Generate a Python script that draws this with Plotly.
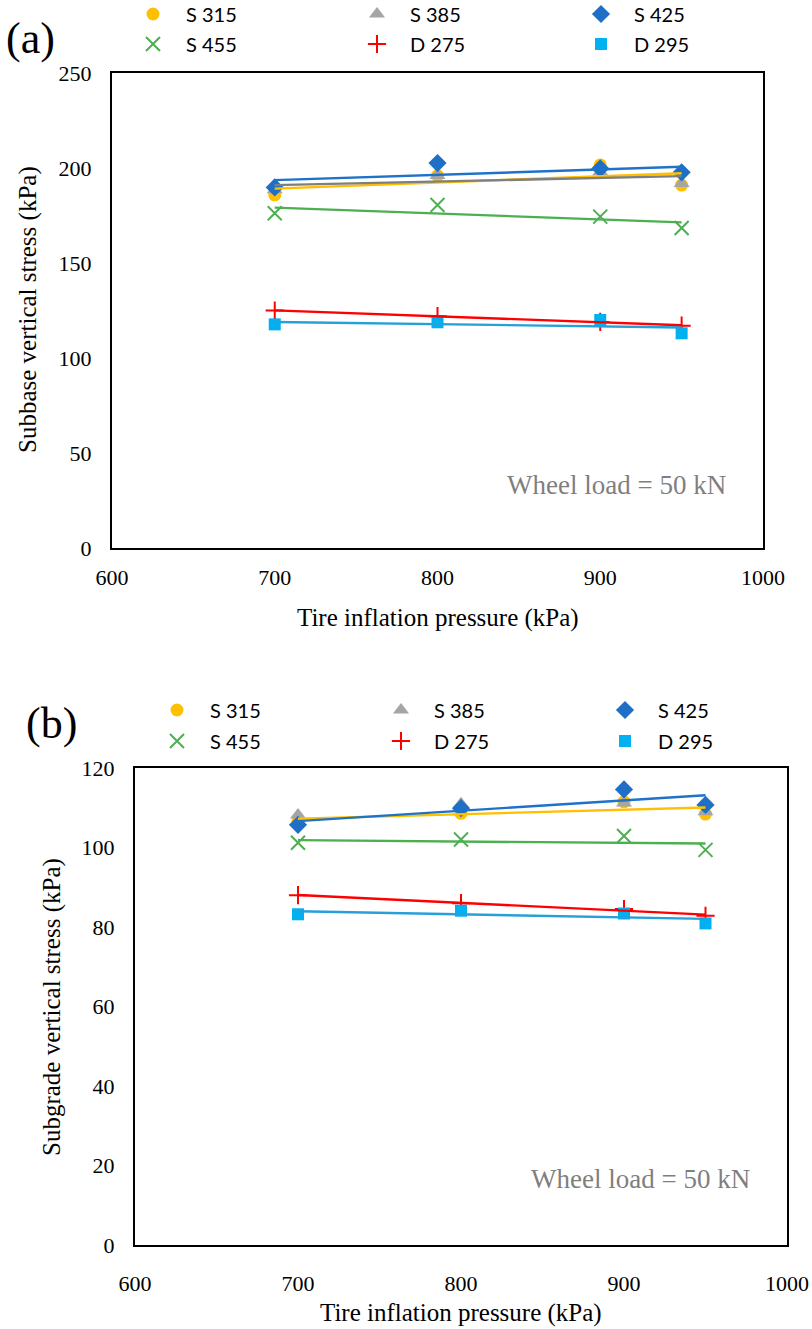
import numpy as np
import plotly.graph_objects as go

W, H = 812, 1329

# ---------------- data ----------------
pressure = [700, 800, 900, 950]
series_names = ["S 315", "S 385", "S 425", "S 455", "D 275", "D 295"]

subbase_S315 = [185.8, 196.0, 201.6, 191.0]
subbase_S385 = [188.5, 196.0, 198.0, 191.9]
subbase_S425 = [189.8, 202.6, 199.8, 197.7]
subbase_S455 = [176.2, 180.5, 174.4, 168.4]
subbase_D275 = [125.0, 122.0, 119.0, 117.0]
subbase_D295 = [117.7, 118.8, 120.0, 113.0]

subgrade_S315 = [106.7, 108.6, 111.5, 108.4]
subgrade_S385 = [108.2, 111.0, 111.2, 109.0]
subgrade_S425 = [105.7, 109.9, 114.6, 110.7]
subgrade_S455 = [101.2, 102.0, 102.9, 99.4]
subgrade_D275 = [88.0, 86.0, 84.5, 82.8]
subgrade_D295 = [83.2, 84.1, 83.4, 80.9]

x_ticks = [600, 700, 800, 900, 1000]
ya_ticks = [0, 50, 100, 150, 200, 250]
yb_ticks = [0, 20, 40, 60, 80, 100, 120]

# ---------------- styles ----------------
marker_styles = [
    dict(symbol="circle", color="#FFC000", size=13),
    dict(symbol="triangle-up", color="#A5A5A5", size=14),
    dict(symbol="diamond", color="#1F6FC6", size=14),
    dict(symbol="x-thin", color="#4CAF50", size=14, line=dict(color="#4CAF50", width=2)),
    dict(symbol="cross-thin", color="#FF0000", size=13, line=dict(color="#FF0000", width=2)),
    dict(symbol="square", color="#00B0F0", size=12),
]
line_colors = ["#FFC000", "#7F7F7F", "#1E72C8", "#4CAF50", "#FF0000", "#25A0DA"]

serif = "Liberation Serif, Times New Roman, serif"
sans = "Lato, Carlito, Calibri, sans-serif"


def px(x):
    return x / W


def py(y):
    return 1 - y / H


fig = go.Figure()

panels = [
    dict(xa="x", ya="y", data=[subbase_S315, subbase_S385, subbase_S425,
                              subbase_S455, subbase_D275, subbase_D295],
         legends=["legend", "legend2"], trend=[True] * 6),
    dict(xa="x2", ya="y2", data=[subgrade_S315, subgrade_S385, subgrade_S425,
                                subgrade_S455, subgrade_D275, subgrade_D295],
         legends=["legend3", "legend4"], trend=[True, False, True, True, True, True]),
]

for p in panels:
    for i, (name, vals) in enumerate(zip(series_names, p["data"])):
        fig.add_trace(go.Scatter(
            x=pressure, y=vals, mode="markers", name=name,
            marker=marker_styles[i], xaxis=p["xa"], yaxis=p["ya"],
            legend=p["legends"][0] if i < 3 else p["legends"][1],
            showlegend=True,
        ))
    for i, vals in enumerate(p["data"]):
        if not p["trend"][i]:
            continue
        coef = np.polyfit(pressure, vals, 1)
        xs = [min(pressure), max(pressure)]
        ys = list(np.polyval(coef, xs))
        fig.add_trace(go.Scatter(
            x=xs, y=ys, mode="lines", line=dict(color=line_colors[i], width=2.4),
            xaxis=p["xa"], yaxis=p["ya"], showlegend=False, hoverinfo="skip",
        ))

axis_common = dict(showgrid=False, zeroline=False, showline=True, linecolor="black",
                   linewidth=2, mirror=True, ticks="", automargin=False,
                   tickfont=dict(family=serif, size=22, color="black"))

fig.update_layout(
    width=W, height=H,
    margin=dict(l=0, r=0, t=0, b=0, autoexpand=False),
    paper_bgcolor="white", plot_bgcolor="white",
    showlegend=True,
    xaxis=dict(domain=[px(112), px(763)], range=[600, 1000], tickvals=x_ticks,
               anchor="y", ticklabelstandoff=9, **axis_common),
    yaxis=dict(domain=[py(548), py(73)], range=[0, 250], tickvals=ya_ticks,
               anchor="x", ticklabelstandoff=14, **axis_common),
    xaxis2=dict(domain=[px(135), px(787)], range=[600, 1000], tickvals=x_ticks,
                anchor="y2", ticklabelstandoff=18, **axis_common),
    yaxis2=dict(domain=[py(1245), py(768)], range=[0, 120], tickvals=yb_ticks,
                anchor="x2", ticklabelstandoff=14, **axis_common),
)

legend_common = dict(orientation="h", xanchor="left", yanchor="middle",
                     bgcolor="rgba(0,0,0,0)", borderwidth=0, entrywidth=153,
                     itemwidth=56, font=dict(family=sans, size=20, color="black"))
fig.update_layout(
    legend=dict(x=px(120), y=py(14), **legend_common),
    legend2=dict(x=px(120), y=py(44), **legend_common),
    legend3=dict(x=px(144), y=py(710), **legend_common),
    legend4=dict(x=px(144), y=py(741), **legend_common),
)

title_font = dict(family=serif, size=25, color="black")
annotations = [
    dict(text="(a)", x=px(4), y=py(38), xanchor="left", yanchor="middle",
         font=dict(family=serif, size=44, color="black")),
    dict(text="(b)", x=px(24), y=py(723), xanchor="left", yanchor="middle",
         font=dict(family=serif, size=44, color="black")),
    dict(text="Subbase vertical stress (kPa)", x=px(28), y=py(310), textangle=-90,
         xanchor="center", yanchor="middle", font=title_font),
    dict(text="Tire inflation pressure (kPa)", x=px(438), y=py(618),
         xanchor="center", yanchor="middle", font=title_font),
    dict(text="Subgrade vertical stress (kPa)", x=px(52), y=py(1007), textangle=-90,
         xanchor="center", yanchor="middle", font=title_font),
    dict(text="Tire inflation pressure (kPa)", x=px(461), y=py(1313),
         xanchor="center", yanchor="middle", font=title_font),
    dict(text="Wheel load = 50 kN", x=px(616), y=py(485),
         xanchor="center", yanchor="middle", font=dict(family=serif, size=27, color="#7F7F7F")),
    dict(text="Wheel load = 50 kN", x=px(640), y=py(1179),
         xanchor="center", yanchor="middle", font=dict(family=serif, size=27, color="#7F7F7F")),
]
for a in annotations:
    a.update(xref="paper", yref="paper", showarrow=False)
fig.update_layout(annotations=annotations)

fig.write_html("out.html")
